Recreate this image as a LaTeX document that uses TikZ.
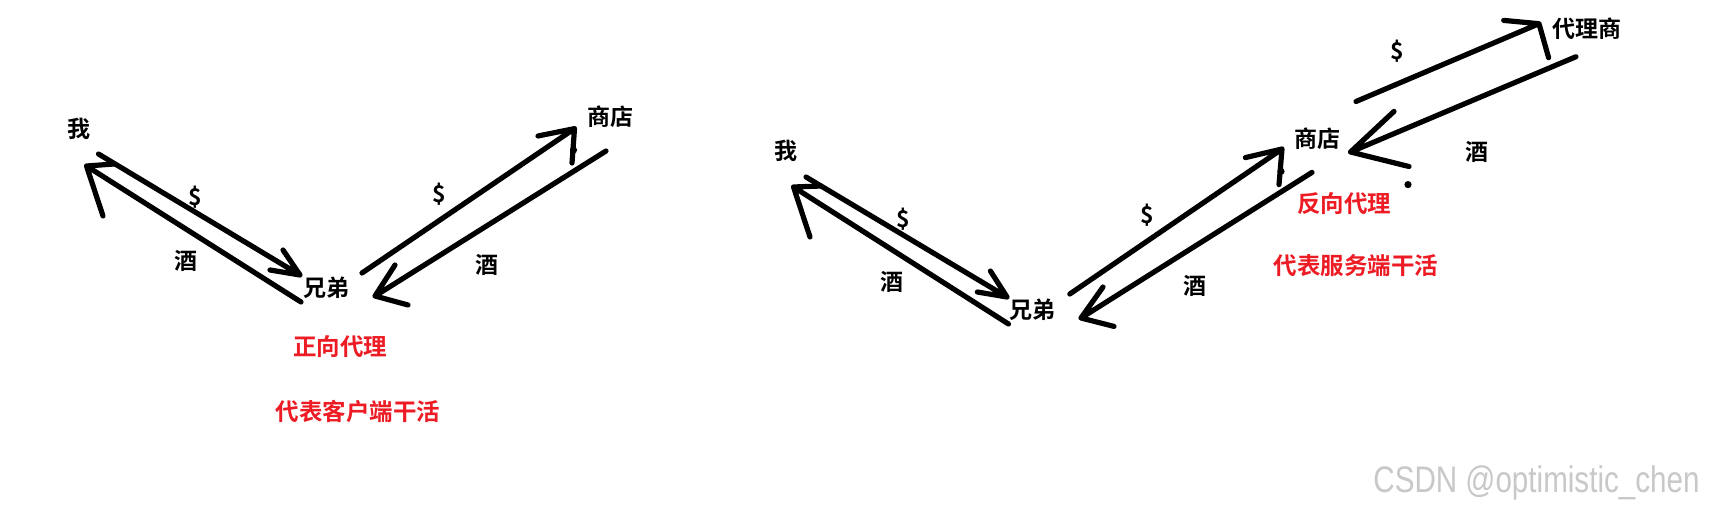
\documentclass[tikz,border=0pt]{standalone}
\usepackage{fontspec}
\newfontfamily\cjk{Noto Sans CJK SC}[BoldFont={Noto Sans CJK SC Bold}]
\setmainfont{Liberation Sans}
\definecolor{paintred}{RGB}{237,28,36}
\definecolor{wmgray}{RGB}{200,200,200}
\begin{document}
\begin{tikzpicture}[x=1pt,y=-1pt,
  lbl/.style={font=\cjk\bfseries\fontsize{23}{27}\selectfont, inner sep=0pt},
  redlbl/.style={font=\cjk\bfseries\fontsize{23.5}{27}\selectfont, text=paintred, inner sep=0pt},
  stroke/.style={line width=5.2pt, line cap=round, line join=round},
  wm/.style={font=\fontsize{37}{40}\selectfont, text=wmgray, inner sep=0pt}]
\useasboundingbox[fill=white] (0,0) rectangle (1716,517);
% ---------- left diagram ----------
\node[lbl] (me1) at (79,129) {我};
\node[lbl] (bro1) at (326,288) {兄弟};
\node[lbl] (shop1) at (610,117) {商店};
\node[lbl] (d1a) at (195,197) {\$};
\node[lbl] (w1a) at (186,261) {酒};
\node[lbl] (d1b) at (439,194) {\$};
\node[lbl] (w1b) at (487,265) {酒};
\node[redlbl] (fw) at (340,347) {正向代理};
\node[redlbl] (fwd) at (358,412) {代表客户端干活};
\coordinate (a1s) at (98.5,154); \coordinate (a1t) at (300,275);
\coordinate (a1p) at (283,250); \coordinate (a1q) at (270,270);
\coordinate (b1s) at (301,302); \coordinate (b1t) at (86.5,166);
\coordinate (b1p) at (114,164); \coordinate (b1q) at (103,216);
\coordinate (c1s) at (362,273); \coordinate (c1t) at (574.5,128.6);
\coordinate (c1p) at (538,136); \coordinate (c1q) at (572,163);
\coordinate (d1s) at (606,151); \coordinate (d1t) at (375,296);
\coordinate (d1p) at (395,265); \coordinate (d1q) at (408,305);
\draw[stroke] (a1s) -- (a1t) (a1p) -- (a1t) -- (a1q);
\draw[stroke] (b1s) -- (b1t) (b1p) -- (b1t) -- (b1q);
\draw[stroke] (c1s) -- (c1t) (c1p) -- (c1t) -- (c1q);
\draw[stroke] (d1s) -- (d1t) (d1p) -- (d1t) -- (d1q);
\fill (573.5,150) circle (3.6pt);
% ---------- right diagram ----------
\node[lbl] (me2) at (786,151) {我};
\node[lbl] (bro2) at (1032,310) {兄弟};
\node[lbl] (shop2) at (1317.6,139) {商店};
\node[lbl] (agent) at (1587,29) {代理商};
\node[lbl] (d2a) at (903,219) {\$};
\node[lbl] (w2a) at (892,282) {酒};
\node[lbl] (d2b) at (1147,215) {\$};
\node[lbl] (w2b) at (1194.5,286) {酒};
\node[lbl] (d2c) at (1397,51) {\$};
\node[lbl] (w2c) at (1477,152) {酒};
\node[redlbl] (rv) at (1344,204) {反向代理};
\node[redlbl] (rvd) at (1356,266) {代表服务端干活};
\coordinate (a2s) at (806,177); \coordinate (a2t) at (1007,297);
\coordinate (a2p) at (990.4,271); \coordinate (a2q) at (977.3,292);
\coordinate (b2s) at (1008.5,324); \coordinate (b2t) at (793.5,187);
\coordinate (b2p) at (821,186); \coordinate (b2q) at (810,237);
\coordinate (c2s) at (1069.8,294); \coordinate (c2t) at (1282,149);
\coordinate (c2p) at (1245.4,157.6); \coordinate (c2q) at (1279,184.6);
\coordinate (d2s) at (1312,172.4); \coordinate (d2t) at (1081,318);
\coordinate (d2p) at (1103,287); \coordinate (d2q) at (1114,326.4);
\coordinate (e2s) at (1356,101.5); \coordinate (e2t) at (1539,23.7);
\coordinate (e2p) at (1503.7,20.4); \coordinate (e2q) at (1548.6,57.7);
\coordinate (f2s) at (1576,56.7); \coordinate (f2t) at (1350.5,152);
\coordinate (f2p) at (1394,111.4); \coordinate (f2q) at (1409,166.5);
\draw[stroke] (a2s) -- (a2t) (a2p) -- (a2t) -- (a2q);
\draw[stroke] (b2s) -- (b2t) (b2p) -- (b2t) -- (b2q);
\draw[stroke] (c2s) -- (c2t) (c2p) -- (c2t) -- (c2q);
\draw[stroke] (d2s) -- (d2t) (d2p) -- (d2t) -- (d2q);
\draw[stroke] (e2s) -- (e2t) (e2p) -- (e2t) -- (e2q);
\draw[stroke] (f2s) -- (f2t) (f2p) -- (f2t) -- (f2q);
\fill (1281,171.4) circle (3.6pt);
\fill (1408,184.6) circle (3.6pt);
% ---------- watermark ----------
\node[wm, xscale=0.8] (wmk) at (1536.5,483) {CSDN @optimistic\_chen};
\end{tikzpicture}
\end{document}
